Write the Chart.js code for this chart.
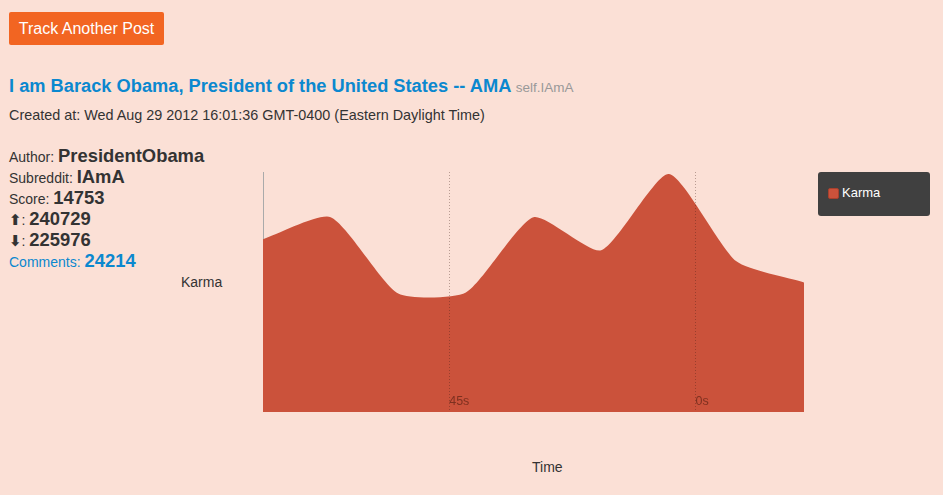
<!DOCTYPE html>
<html>
<head>
<meta charset="utf-8">
<script src="https://cdn.jsdelivr.net/npm/chart.js@4"></script>
<style>
    body {
        margin: 0;
        background: #fbe0d6;
        font-family: "Liberation Sans", Arial, sans-serif;
        color: #333;
        width: 943px;
        height: 495px;
        position: relative;
        overflow: hidden;
    }
    .btn {
        position: absolute; left: 9px; top: 12px;
        width: 155px; height: 33px; line-height: 33px;
        background: #f26522; color: #fff; border-radius: 2px;
        font-size: 16px; text-align: center;
    }
    .title { position: absolute; left: 9px; top: 75px; font-size: 18.25px; font-weight: bold; color: #0b88cf; white-space: nowrap; }
    .title span { font-size: 13.5px; font-weight: normal; color: #999; }
    .created { position: absolute; left: 9px; top: 107px; font-size: 14.4px; white-space: nowrap; }
    .info { position: absolute; left: 9px; top: 145px; font-size: 14px; }
    .info div { height: 21px; line-height: 21px; white-space: nowrap; }
    .info b { font-size: 18.4px; }
    .info .blue { color: #0b88cf; }
    .info .arrow { font-family: "DejaVu Sans"; font-size: 15px; font-weight: bold; }
    .axis-label { position: absolute; font-size: 14px; }
    #chartBox { position: absolute; left: 263px; top: 172px; width: 541px; height: 240px; }
    #legend {
        position: absolute; left: 818px; top: 172px; width: 112px; height: 44px;
        background: #404040; border-radius: 3px; color: #fff; font-size: 13px;
    }
    #legend .swatch {
        position: absolute; left: 10px; top: 16px; width: 9px; height: 9px;
        border: 1px solid #a8402d; border-radius: 2px;
    }
    #legend .text { position: absolute; left: 24px; top: 13px; }
</style>
</head>
<body>
<div class="btn">Track Another Post</div>
<div class="title">I am Barack Obama, President of the United States -- AMA <span>self.IAmA</span></div>
<div class="created">Created at: Wed Aug 29 2012 16:01:36 GMT-0400 (Eastern Daylight Time)</div>
<div class="info">
    <div>Author: <b>PresidentObama</b></div>
    <div>Subreddit: <b>IAmA</b></div>
    <div>Score: <b>14753</b></div>
    <div><span class="arrow">&#x2B06;</span>: <b>240729</b></div>
    <div><span class="arrow">&#x2B07;</span>: <b>225976</b></div>
    <div class="blue">Comments: <b>24214</b></div>
</div>
<div class="axis-label" style="left:181px; top:274px;">Karma</div>
<div class="axis-label" style="left:532px; top:459px;">Time</div>
<div id="chartBox"><canvas id="karmaChart"></canvas></div>
<div id="legend"><div class="swatch"></div><div class="text"></div></div>

<script>
// Dados
const seriesName = 'Karma';
const times = [0, 12.35, 24.7, 37.05, 49.4, 61.75, 74.1, 86.45, 98.8];
const karma = [172, 194, 118, 119, 194, 161, 237, 150, 129];
const tickTimes = [34, 79];
const tickLabels = ['45s', '0s'];

const areaColor = '#cb523b';

document.addEventListener('DOMContentLoaded', function() {
    initLegend();
    initChart();
});

function initLegend() {
    const legend = document.getElementById('legend');
    legend.querySelector('.swatch').style.background = areaColor;
    legend.querySelector('.text').textContent = seriesName;
}

function initChart() {
    const ctx = document.getElementById('karmaChart').getContext('2d');
    new Chart(ctx, {
        type: 'line',
        data: {
            datasets: [{
                label: seriesName,
                data: times.map((t, i) => ({ x: t, y: karma[i] })),
                backgroundColor: areaColor,
                borderWidth: 0,
                pointRadius: 0,
                fill: 'origin',
                tension: 0.2
            }]
        },
        options: {
            responsive: true,
            maintainAspectRatio: false,
            animation: false,
            layout: { padding: 0 },
            plugins: {
                legend: { display: false },
                tooltip: { enabled: false }
            },
            scales: {
                x: {
                    type: 'linear',
                    min: times[0],
                    max: times[times.length - 1],
                    afterFit: function(scale) { scale.height = 0; },
                    afterBuildTicks: function(scale) {
                        scale.ticks = tickTimes.map(v => ({ value: v }));
                    },
                    grid: {
                        z: 1,
                        color: 'rgba(60, 30, 20, 0.35)',
                        lineWidth: 1,
                        drawTicks: false
                    },
                    border: { display: false, dash: [1, 2] },
                    ticks: {
                        z: 1,
                        mirror: true,
                        align: 'start',
                        padding: 3,
                        color: 'rgba(60, 20, 10, 0.55)',
                        font: { family: 'Liberation Sans', size: 12.5 },
                        callback: function(value, index) {
                            return tickLabels[index];
                        }
                    }
                },
                y: {
                    min: 0,
                    max: 239,
                    afterFit: function(scale) { scale.width = 0; },
                    grid: { display: false },
                    border: { display: true, color: '#aaa', width: 1 },
                    ticks: { display: false }
                }
            }
        }
    });
}
</script>
</body>
</html>
